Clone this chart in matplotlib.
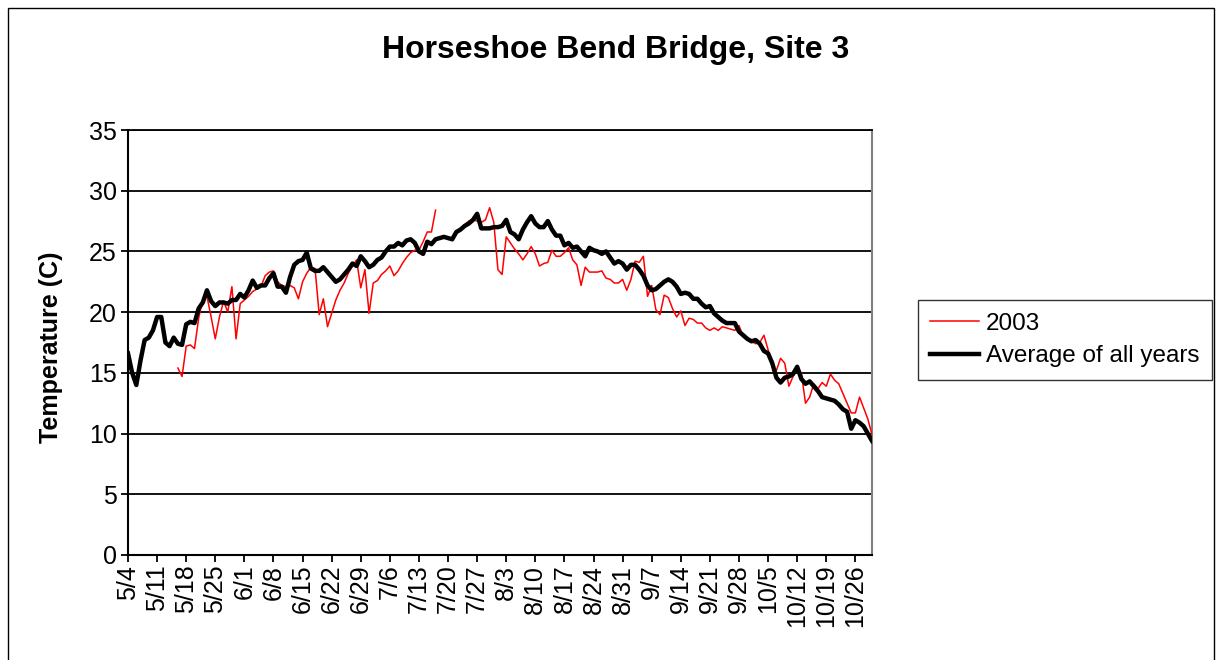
import matplotlib
matplotlib.use("Agg")
import matplotlib.pyplot as plt
import numpy as np
import pandas as pd
from matplotlib.patches import Rectangle

plt.rcParams['font.family'] = ['Liberation Sans', 'DejaVu Sans']

title = "Horseshoe Bend Bridge, Site 3"
y_label = "Temperature (C)"
series_names = ["2003", "Average of all years"]
start_date = "2003-05-04"

avg_temp = [
    16.6, 15.0, 14.0, 16.0, 17.7, 17.9, 18.5, 19.6, 19.6, 17.5,
    17.2, 17.9, 17.4, 17.3, 19.0, 19.2, 19.1, 20.3, 20.8, 21.8,
    20.9, 20.5, 20.8, 20.8, 20.7, 21.0, 21.0, 21.5, 21.2, 21.8,
    22.6, 22.0, 22.2, 22.2, 22.8, 23.2, 22.1, 22.1, 21.6, 22.9,
    23.9, 24.2, 24.3, 24.9, 23.6, 23.4, 23.4, 23.7, 23.3, 22.9,
    22.5, 22.7, 23.1, 23.5, 24.0, 23.8, 24.6, 24.2, 23.7, 23.9,
    24.3, 24.5, 25.0, 25.4, 25.4, 25.7, 25.5, 25.9, 26.0, 25.7,
    25.0, 24.8, 25.8, 25.6, 26.0, 26.1, 26.2, 26.1, 26.0, 26.6,
    26.8, 27.1, 27.3, 27.6, 28.1, 26.9, 26.9, 26.9, 27.0, 27.0,
    27.1, 27.6, 26.6, 26.4, 26.0, 26.8, 27.4, 27.9, 27.3, 27.0,
    27.0, 27.5, 26.8, 26.3, 26.3, 25.5, 25.7, 25.3, 25.4, 25.0,
    24.6, 25.3, 25.1, 25.0, 24.8, 25.0, 24.5, 24.0, 24.2, 24.0,
    23.5, 23.9, 23.9, 23.5, 23.0, 22.2, 21.8, 21.9, 22.2, 22.5,
    22.7, 22.5, 22.1, 21.5, 21.6, 21.5, 21.1, 21.1, 20.7, 20.4,
    20.5, 19.9, 19.6, 19.3, 19.1, 19.1, 19.1, 18.4, 18.1, 17.8,
    17.6, 17.7, 17.4, 16.8, 16.6, 15.8, 14.6, 14.2, 14.6, 14.7,
    14.9, 15.5, 14.5, 14.1, 14.3, 13.9, 13.5, 13.0, 12.9, 12.8,
    12.7, 12.4, 12.0, 11.8, 10.4, 11.1, 10.9, 10.6, 10.0, 9.4,
]

temp_2003 = [
    None, None, None, None, None, None, None, None, None, None,
    None, None, 15.4, 14.7, 17.2, 17.3, 17.0, 19.5, 21.1, 21.3,
    19.6, 17.8, 19.6, 20.9, 20.0, 22.1, 17.8, 20.7, 21.0, 21.3,
    21.7, 21.9, 22.1, 23.0, 23.3, 23.4, 22.5, 22.2, 22.1, 22.2,
    22.0, 21.1, 22.5, 23.2, 23.7, 23.6, 19.8, 21.1, 18.8, 19.9,
    21.0, 21.8, 22.4, 23.2, 23.8, 24.3, 22.0, 23.5, 19.9, 22.4,
    22.6, 23.1, 23.4, 23.8, 23.0, 23.4, 24.0, 24.5, 24.9, 25.1,
    25.1, 25.8, 26.6, 26.6, 28.4, None, None, None, None, None,
    None, 27.2, 27.5, 27.6, 27.5, 27.4, 27.6, 28.6, 27.4, 23.5,
    23.1, 26.2, 25.7, 25.2, 24.8, 24.3, 24.8, 25.4, 24.8, 23.8,
    24.0, 24.1, 25.1, 24.6, 24.6, 24.9, 25.3, 24.3, 23.9, 22.2,
    23.7, 23.3, 23.3, 23.3, 23.4, 22.8, 22.7, 22.4, 22.4, 22.7,
    21.8, 22.7, 24.2, 24.1, 24.6, 21.3, 22.2, 20.2, 19.8, 21.4,
    21.2, 20.3, 19.6, 20.1, 18.9, 19.5, 19.4, 19.1, 19.1, 18.7,
    18.5, 18.7, 18.5, 18.8, 18.7, 18.6, 18.5, 18.9, 18.0, 17.8,
    17.6, 17.4, 17.5, 18.1, 16.9, 15.5, 15.2, 16.2, 15.8, 13.9,
    14.7, 15.4, 15.0, 12.5, 13.0, 14.1, 13.7, 14.2, 13.9, 14.9,
    14.4, 14.1, 13.3, 12.5, 11.7, 11.7, 13.0, 12.1, 11.2, 9.9,
]

y_ticks = [0, 5, 10, 15, 20, 25, 30, 35]

dates = pd.date_range(start_date, periods=len(avg_temp), freq="D")
x = np.arange(len(dates))
tick_idx = x[::7]
tick_labels = [f"{dates[i].month}/{dates[i].day}" for i in tick_idx]

W, H = 1217, 660
fig = plt.figure(figsize=(W / 100, H / 100), dpi=100)
fig.patch.set_facecolor("white")

# outer chart border
fig.patches.append(Rectangle((8 / W, -0.05), (1214 - 8) / W, 1.05 - 8 / H,
                             transform=fig.transFigure, fill=False,
                             edgecolor="black", linewidth=1.0))

ax = fig.add_axes([128 / W, (H - 555) / H, 744 / W, 425 / H])

red = np.array([np.nan if v is None else v for v in temp_2003], dtype=float)
l1, = ax.plot(x, red, color="#ff0000", lw=1.1, label=series_names[0], zorder=3)
l2, = ax.plot(x, avg_temp, color="black", lw=3.2, label=series_names[1], zorder=4)

ax.set_xlim(0, len(x) - 1)
ax.set_ylim(0, 35)
ax.set_yticks(y_ticks)
ax.set_xticks(tick_idx)
ax.set_xticklabels(tick_labels, rotation=90)
ax.yaxis.grid(True, color="black", lw=1.3)
ax.set_axisbelow(True)
ax.tick_params(axis="both", labelsize=18, length=5, width=1.3, direction="out",
               pad=3, color="black")
ax.tick_params(axis="x", pad=2)
for s in ["left", "bottom"]:
    ax.spines[s].set_color("black")
    ax.spines[s].set_linewidth(1.5)
ax.spines["top"].set_color("black")
ax.spines["top"].set_linewidth(1.3)
ax.spines["right"].set_color("#808080")
ax.spines["right"].set_linewidth(1.5)

fig.text(616 / W, 1 - 50 / H, title, ha="center", va="center",
         fontsize=23, fontweight="bold")
fig.text(51 / W, 1 - 347 / H, y_label, ha="center", va="center",
         rotation=90, fontsize=18, fontweight="bold")

leg = fig.legend(handles=[l1, l2], loc="center", mode="expand",
                 bbox_to_anchor=(918 / W, (H - 383) / H, 294 / W, 86 / H),
                 fontsize=17.5, frameon=True, fancybox=False,
                 edgecolor="black", handlelength=2.0, handletextpad=0.3,
                 borderpad=0.5, labelspacing=0.45, borderaxespad=0)
leg.get_frame().set_linewidth(1.0)

fig.savefig("out.png", dpi=100, facecolor="white")
